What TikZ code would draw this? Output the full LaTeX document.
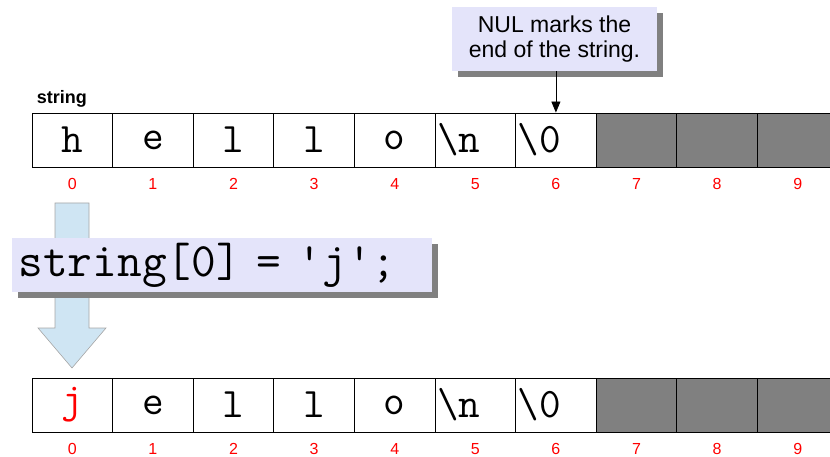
\documentclass[tikz,border=0pt]{standalone}
\usepackage{fontspec}
\setmainfont{Liberation Sans}
\usetikzlibrary{arrows.meta,shadows}
\definecolor{notefill}{HTML}{E4E4FA}
\definecolor{arrowfill}{HTML}{CFE5F3}
\definecolor{unused}{HTML}{808080}
\tikzset{
  cell/.style={draw=black,line width=.9pt,minimum width=80.6pt,minimum height=54pt,
    inner sep=0pt,text width=76pt,font=\ttfamily\fontsize{42}{44}\selectfont},
  idx/.style={text=red,font=\fontsize{16}{17}\selectfont,inner sep=0pt,
    text height=12pt,text depth=0pt},
  note/.style={fill=notefill,inner sep=6pt,
    drop shadow={shadow xshift=6pt,shadow yshift=-6pt,fill=unused,opacity=1}},
}
\begin{document}
\begin{tikzpicture}[x=1pt,y=-1pt,line width=.8pt]
  \useasboundingbox (0,0) rectangle (830,457);
  % top row
  \foreach \ch/\al [count=\i from 0] in {h/center,e/center,l/center,l/center,o/center,
      \textbackslash n/left,\textbackslash 0/left} {
    \node[cell,align=\al] (c\i) at ({72.3+80.6*\i},140) {\ch};
  }
  \foreach \i in {7,8,9} {
    \node[cell,fill=unused] (c\i) at ({72.3+80.6*\i},140) {};
  }
  \foreach \i in {0,...,9} {
    \node[idx] (ci\i) at ([yshift=-16pt]c\i.south) {\i};
  }
  \node[font=\bfseries\fontsize{18}{20}\selectfont,anchor=south west,inner sep=0pt]
    (name) at ([xshift=5pt,yshift=5pt]c0.north west) {string};
  % callout
  \node[note,align=center,font=\fontsize{23}{25}\selectfont,minimum width=205pt,minimum height=64pt,inner sep=2pt]
    (nul) at (554.5,39) {NUL marks the\\end of the string.};
  \draw[-{Triangle[length=11pt,width=9pt]}] (nul.south -| c6.north) -- (c6.north);
  % bottom row
  \foreach \ch/\al [count=\i from 0] in {\textcolor{red}{j}/center,e/center,l/center,l/center,o/center,
      \textbackslash n/left,\textbackslash 0/left} {
    \node[cell,align=\al] (d\i) at ({72.3+80.6*\i},405) {\ch};
  }
  \foreach \i in {7,8,9} {
    \node[cell,fill=unused] (d\i) at ({72.3+80.6*\i},405) {};
  }
  \foreach \i in {0,...,9} {
    \node[idx] (di\i) at ([yshift=-16pt]d\i.south) {\i};
  }
  % big arrow
  \draw[draw=gray!70,fill=arrowfill,line width=.6pt]
    (55,203) -- (89,203) -- (89,328) -- (106,328) -- (72,368) -- (38,328) -- (55,328) -- cycle;
  % assignment
  \node[note,anchor=west,minimum width=420pt,minimum height=54pt,inner sep=0pt,text width=420pt,
    font=\ttfamily\fontsize{48}{50}\selectfont] (code) at (12,265)
    {\hspace*{6pt}string[0] = \textquotesingle j\textquotesingle;};
\end{tikzpicture}
\end{document}
